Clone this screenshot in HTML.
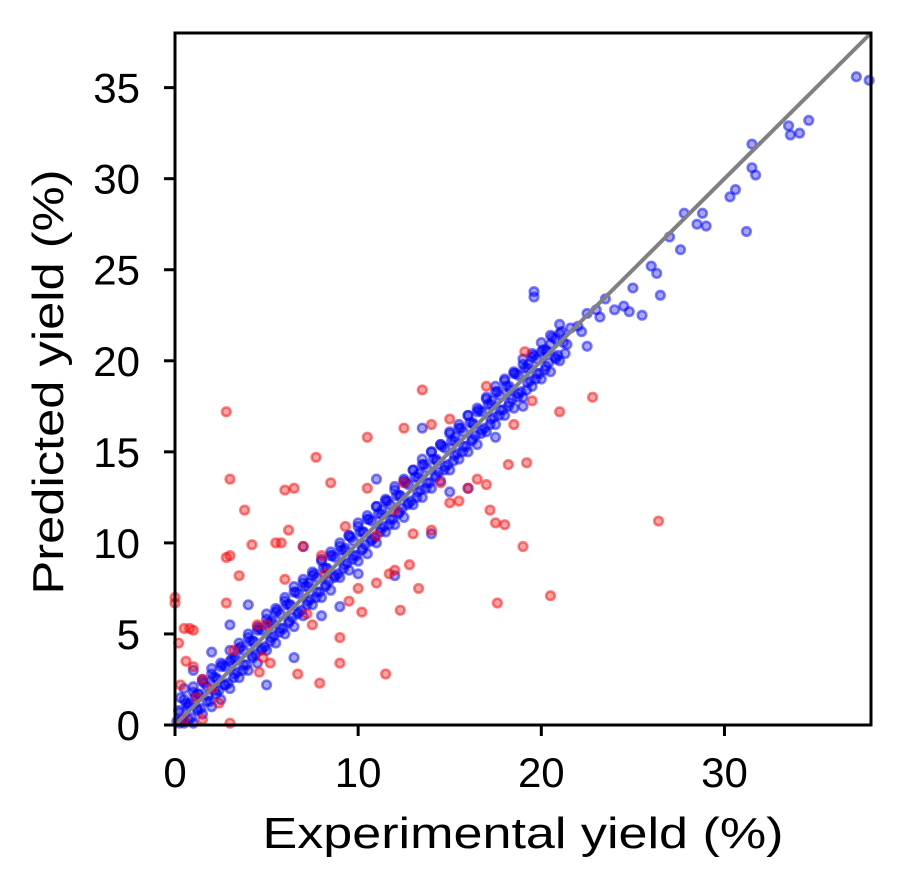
<!DOCTYPE html>
<html><head><meta charset="utf-8"><style>
body{margin:0;background:#fff}
svg text{font-family:"Liberation Sans","DejaVu Sans",sans-serif;fill:#000}
</style></head><body>
<svg id="chart" width="904" height="889">
<g id="marks"></g>
<g id="axes"></g>
</svg>
<script>
const xTicks=[0,10,20,30];
const yTicks=[0,5,10,15,20,25,30,35];
const axisMax=38;
const blueX1=[0.2,0.3,0.5,0.4,0.8,1,1.2,1.5,1.8,2,2.2,2.5,2.7,3,3.2,3.5,3.7,4,4.2,4.5,4.7,5,5.2,5.5,5.7,6,6.2,6.5,6.7,7,7.2,7.5,7.7,8,8.2,8.5,8.7,9,9.2,9.5,9.7,10,10.2,10.5,10.7,11,11.2,11.5,11.7,12,12.2,12.5,12.7,13,13.2,13.5,13.7,14,14.2,14.5,14.7,15,15.2,15.5,15.7,16,16.2,16.5,16.7,17,17.2,17.5,17.7,18,18.2,18.5,18.7,19,19.2,19.5,19.7,20,20.2,20.5,20.8,21,21.3,21.6,22,22.5,23,23.5,24,24.5,25,25.5,26,26.3,26.5,27,27.6,27.8,28.5,28.8,29,30.3,30.6,31.2,31.5,31.5,31.7,33.5,33.6,34.1,34.6,37.2,37.9,19.6,19.6,12,14,9,16,5,6.5,3,4,7,11,13.5,2,1,22.5,24.8,19,15,17.5,10,8,
0.6,1.1,1.6,2.1,2.6,3.1,3.6,4.1,4.6,5.1,5.6,6.1,6.6,7.1,7.6,8.1,8.6,9.1,9.6,10.1,10.6,11.1,11.6,12.1,12.6,13.1,13.6,14.1,14.6,15.1,15.6,16.1,16.6,17.1,17.6,18.1,18.6,19.1,19.6,20.1,20.6,21.1,
0.9,1.4,1.9,2.4,2.9,3.4,3.9,4.4,4.9,5.4,5.9,6.4,6.9,7.4,7.9,8.4,8.9,9.4,9.9,10.4,10.9,11.4,11.9,12.4,12.9,13.4,13.9,14.4,14.9,15.4,15.9,16.4,16.9,17.4,17.9,18.4,18.9,19.4,19.9,20.4,20.9,21.4,
0.1,0.7,1.3,2.3,3.3,4.3,5.3,6.3,7.3,8.3,9.3,10.3,11.3,12.3,13.3,14.3,15.3,16.3,17.3,18.3,19.3,20.3,21.2,22.2,23.2];
const blueY1=[0.8,1.5,2.0,0.3,1.2,1.8,0.9,2.5,1.6,2.8,1.9,3.2,2.2,3.5,2.6,4.2,3.0,4.8,3.8,5.2,4.1,5.8,4.6,6.2,5.1,6.8,5.6,7.3,6.1,7.8,6.6,8.2,7.0,9.0,7.6,9.3,8.1,9.8,8.6,10.4,9.1,10.9,9.6,11.3,10.1,12.0,10.6,12.3,11.0,12.9,11.6,13.4,12.1,14.0,12.5,14.3,13.0,15.0,13.6,15.4,14.0,16.0,14.5,16.3,15.0,17.0,15.6,17.2,16.0,17.9,16.5,18.3,17.0,18.9,17.5,19.3,18.0,19.8,18.4,20.2,19.0,20.5,19.5,20.9,20.1,21.5,20.4,21.8,21.9,22.6,22.8,23.4,22.8,23.0,24.0,22.5,25.2,24.8,23.6,26.8,26.1,28.1,27.5,28.1,27.4,29.0,29.4,27.1,31.9,30.6,30.2,32.9,32.4,32.5,33.2,35.6,35.4,23.5,23.8,8.2,10.5,6.5,13.0,2.2,3.7,5.5,6.6,9.8,13.5,16.3,4.0,3.0,20.8,22.7,17.5,12.8,15.8,8.3,6.0,
1.2,1.6,2.3,2.6,3.3,3.6,4.3,4.6,5.3,5.6,6.3,6.6,7.3,7.6,8.3,8.6,9.3,9.6,10.3,10.6,11.3,11.6,12.3,12.6,13.3,13.6,14.3,14.6,15.3,15.6,16.3,16.6,17.3,17.6,18.3,18.6,19.3,19.6,20.3,20.6,21.3,21.6,
0.4,0.9,1.3,1.9,2.3,2.9,3.3,3.9,4.3,4.9,5.3,5.9,6.3,6.9,7.3,7.9,8.3,8.9,9.3,9.9,10.3,10.9,11.3,11.9,12.3,12.9,13.3,13.9,14.3,14.9,15.3,15.9,16.3,16.9,17.3,17.9,18.3,18.9,19.3,19.9,20.3,20.9,
0.2,1.0,1.7,2.5,3.7,4.6,5.7,6.6,7.8,8.6,9.7,10.6,11.8,12.6,13.8,14.5,15.8,16.5,17.8,18.4,19.8,20.5,21.0,21.6,22.4];
const blueX2=[0.5,1,1.5,2,2.5,3,3.5,4,4.5,5,5.5,6,6.5,7,7.5,8,8.5,9,9.5,10,10.5,11,11.5,12,12.5,13,13.5,14,14.5,15,15.5,16,16.5,17,17.5,18,18.5,19,19.5,20,20.5,21];
const blueY2a=[1.4,2.1,2.4,3.1,3.4,4.1,4.5,5.0,5.4,6.1,6.4,7.0,7.6,8.0,8.4,9.1,9.5,10.0,10.4,11.1,11.5,12.0,12.4,13.1,13.5,14.0,14.6,15.0,15.4,16.1,16.5,17.0,17.4,18.0,18.6,19.0,19.4,20.1,20.4,21.0,21.4,22.0];
const blueY2b=[0.1,0.1,0.6,1.0,1.4,2.0,2.6,3.0,3.4,4.1,4.5,5.0,5.4,6.0,6.6,7.0,7.4,8.1,8.5,9.0,9.4,10.0,10.6,11.0,11.4,12.1,12.5,13.0,13.4,14.0,14.6,15.0,15.4,16.1,16.5,17.0,17.4,18.0,18.6,19.0,19.4,20.0];
const blueX3=[0.25,0.75,1.25,1.75,2.25,2.75,3.25,3.75,4.25,4.75,5.25,5.75,6.25,6.75,7.25,7.75,8.25,8.75,9.25,9.75,10.25,10.75,11.25,11.75,12.25,12.75,13.25,13.75,14.25,14.75,15.25,15.75,16.25,16.75,17.25,17.75,18.25,18.75,19.25,19.75,20.25,20.75];
const blueY3a=[0.7,1.1,1.7,2.1,2.6,3.2,3.6,4.1,4.6,5.2,5.6,6.1,6.6,7.2,7.6,8.1,8.6,9.2,9.6,10.1,10.6,11.2,11.6,12.1,12.6,13.2,13.6,14.1,14.6,15.2,15.6,16.1,16.6,17.2,17.6,18.1,18.6,19.2,19.6,20.1,20.6,21.2];
const blueY3b=[0.1,0.3,0.8,1.3,1.7,2.2,2.8,3.3,3.7,4.2,4.8,5.3,5.7,6.2,6.8,7.3,7.7,8.2,8.8,9.3,9.7,10.2,10.8,11.3,11.7,12.2,12.8,13.3,13.7,14.2,14.8,15.3,15.7,16.2,16.8,17.3,17.7,18.2,18.8,19.3,19.7,20.2];
const redX=[0,0,0.2,0.5,0.8,1,0.6,1,1.5,2,0.5,1.5,2.8,3,2.8,3,2.8,3,3.5,3.8,4.2,4.5,5,4.8,5.2,5.5,5.8,6,6.2,6.5,6.7,7,7.2,7.5,7.7,7.9,8,8.5,9,9,9.3,9.5,10,10.2,10.5,11,11,11.5,11.7,12,12,12.3,12.5,12.8,13,13.5,13.3,14,14.5,15,15.5,16,16.5,17,17.2,17.5,17.6,18,18.2,18.5,19,19.2,19.5,20.5,21,22.8,26.4,19.1,14,8.2,10.5,12.5,15,17,6,3.2,1.2,2.4,0.3,4.6];
const redY=[7,6.7,4.5,5.3,5.3,5.2,3.5,3.2,2.5,2.0,0.3,0.3,17.2,13.5,9.2,9.3,6.7,0.1,8.2,11.8,9.9,5.5,5.5,3.7,3.4,10,10,12.9,10.7,13,2.8,9.8,6.1,5.5,14.7,2.3,9.3,13.3,3.4,4.8,10.9,6.8,7.5,6.2,15.8,7.8,10.4,2.8,8.3,8.5,11.8,6.3,13.3,8.8,10.5,18.4,7.5,16.5,13.3,12.2,12.3,13.0,13.5,13.2,11.8,11.1,6.7,11.0,14.3,16.5,9.8,14.4,17.8,7.1,17.2,18,11.2,20.5,10.7,8.3,13,16.3,16.8,18.6,8,4.1,1.5,1.2,2.2,2.9];
const X0=175,X1=871,Y0=725,Y1=33;
const sx=v=>X0+(X1-X0)*v/axisMax, sy=v=>Y0-(Y0-Y1)*v/axisMax;
const NS="http://www.w3.org/2000/svg";
const marks=document.getElementById('marks'), axes=document.getElementById('axes');
function mk(tag,attrs,parent){const e=document.createElementNS(NS,tag);for(const k in attrs)e.setAttribute(k,attrs[k]);parent.appendChild(e);return e;}
function pts(xs,ys,col,name){for(let i=0;i<xs.length;i++){const c=mk('circle',{cx:sx(xs[i]),cy:sy(ys[i]),r:4.3,fill:col,'fill-opacity':0.35,stroke:col,'stroke-opacity':0.5,'stroke-width':2.6},marks);

}}
pts(blueX2,blueY2a,'#0000ff','train-point');
pts(blueX2,blueY2b,'#0000ff','train-point');
pts(blueX3,blueY3a,'#0000ff','train-point');
pts(blueX3,blueY3b,'#0000ff','train-point');
pts(blueX1,blueY1,'#0000ff','train-point');
pts(redX,redY,'#ff0000','test-point');
const ln=mk('line',{x1:sx(0),y1:sy(0),x2:sx(axisMax),y2:sy(axisMax),stroke:'#808080','stroke-width':4},marks);


const fr=mk('rect',{x:X0,y:Y1,width:X1-X0,height:Y0-Y1,fill:'none',stroke:'#000','stroke-width':3},axes);


xTicks.forEach(t=>{mk('line',{x1:sx(t),x2:sx(t),y1:Y0,y2:Y0+11,stroke:'#000','stroke-width':3},axes);
const tx=mk('text',{x:sx(t),y:Y0+62,'text-anchor':'middle','font-size':42},axes);tx.textContent=t;

});
yTicks.forEach(t=>{mk('line',{x1:X0-11,x2:X0,y1:sy(t),y2:sy(t),stroke:'#000','stroke-width':3},axes);
const tx=mk('text',{x:X0-35,y:sy(t)+15,'text-anchor':'end','font-size':42},axes);tx.textContent=t;

});
const xl=mk('text',{x:523,y:848,'text-anchor':'middle','font-size':44,textLength:521,lengthAdjust:'spacingAndGlyphs'},axes);xl.textContent='Experimental yield (%)';


const yl=mk('text',{x:0,y:0,'text-anchor':'middle','font-size':44,textLength:425,lengthAdjust:'spacingAndGlyphs',transform:'translate(63,382) rotate(-90)'},axes);yl.textContent='Predicted yield (%)';


</script>
</body></html>
